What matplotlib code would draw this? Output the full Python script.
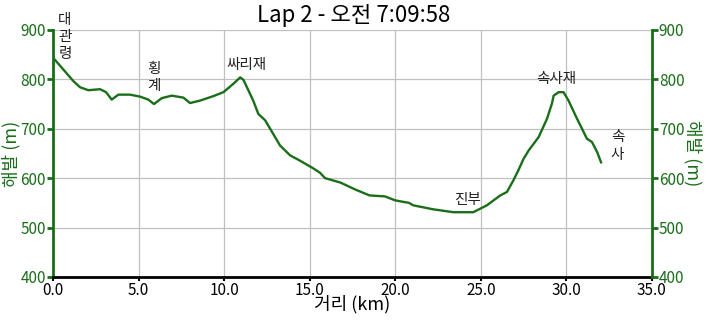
import matplotlib
matplotlib.use("Agg")
import matplotlib.pyplot as plt

plt.rcParams['font.family'] = ['Noto Sans CJK KR', 'DejaVu Sans']

# elevation profile (km, m)
dist_km = [0.0, 0.4, 0.8, 1.2, 1.58, 2.06, 2.4, 2.75, 3.1, 3.43, 3.82, 4.5, 5.09,
           5.57, 5.9, 6.36, 6.94, 7.62, 8.01, 8.6, 9.37, 9.96, 10.54, 10.94, 11.13,
           11.7, 12.0, 12.4, 13.27, 13.86, 14.4, 15.2, 15.6, 15.9, 16.8, 17.66,
           18.5, 19.4, 20.0, 20.3, 20.8, 21.05, 22.2, 23.4, 24.56, 25.36, 25.75,
           26.14, 26.53, 26.9, 27.2, 27.5, 27.8, 28.38, 28.87, 29.16, 29.26, 29.55,
           29.84, 30.13, 30.63, 30.92, 31.2, 31.5, 31.8, 32.03]
elev_m = [844, 828, 812, 796, 784, 778, 779, 780, 774, 759, 769, 769, 765,
          759, 750, 762, 767, 763, 752, 757, 766, 774, 791, 804, 799,
          757, 730, 717, 666, 646, 636, 620, 611, 600, 591, 577,
          565, 563, 555, 553, 550, 545, 537, 531, 531, 545, 555,
          565, 572, 595, 616, 639, 656, 683, 720, 751, 767, 774,
          774, 757, 720, 700, 680, 673, 653, 632]

# place names: (label, km, m)
places = [("대\n관\n령", 0.7, 886), ("횡\n계", 5.9, 804), ("싸리재", 11.3, 829),
          ("속사재", 29.4, 801), ("진부", 24.2, 556), ("속\n사", 33.0, 665)]

x_ticks = [0, 5, 10, 15, 20, 25, 30, 35]
y_ticks = [400, 500, 600, 700, 800, 900]

green = '#1a6e1a'

fig = plt.figure(figsize=(7.07, 3.22), dpi=100)
ax = fig.add_axes([0.075, 0.14, 0.847, 0.767])

ax.plot(dist_km, elev_m, color=green, linewidth=1.7, zorder=3)

ax.set_xlim(0, 35)
ax.set_ylim(400, 900)
ax.set_xticks(x_ticks)
ax.set_xticklabels([f"{v:.1f}" for v in x_ticks])
ax.set_yticks(y_ticks)
ax.grid(True, color='#c0c0c0', linewidth=0.9)
ax.set_axisbelow(True)

ax.spines['top'].set_visible(False)
ax.spines['right'].set_visible(False)
ax.spines['left'].set_color(green)
ax.spines['left'].set_linewidth(2)
ax.spines['bottom'].set_color('black')
ax.spines['bottom'].set_linewidth(2)

ax.tick_params(axis='y', colors=green, labelsize=11, length=4, width=2, pad=1)
ax.tick_params(axis='x', colors='black', labelsize=11, length=3, width=1.5, pad=1)
for lbl in ax.get_yticklabels():
    lbl.set_color(green)

ax2 = ax.twinx()
ax2.set_ylim(400, 900)
ax2.set_yticks(y_ticks)
for side in ['top', 'left', 'bottom']:
    ax2.spines[side].set_visible(False)
ax2.spines['right'].set_color(green)
ax2.spines['right'].set_linewidth(2)
ax2.tick_params(axis='y', colors=green, labelsize=11, length=4, width=2, pad=1)

ax.set_ylabel("해발 (m)", color=green, fontsize=13, labelpad=0)
ax2.set_ylabel("해발 (m)", color=green, fontsize=13, rotation=270, labelpad=13)
ax.set_xlabel("거리 (km)", fontsize=13, labelpad=-3)

for name, km, m in places:
    ax.text(km, m, name, ha='center', va='center', fontsize=10.5,
            color='#222222', linespacing=1.3, clip_on=False, zorder=4)

fig.text(0.5, 0.953, "Lap 2 - 오전 7:09:58", ha='center', va='center', fontsize=16)

fig.savefig("out.png", dpi=100)
